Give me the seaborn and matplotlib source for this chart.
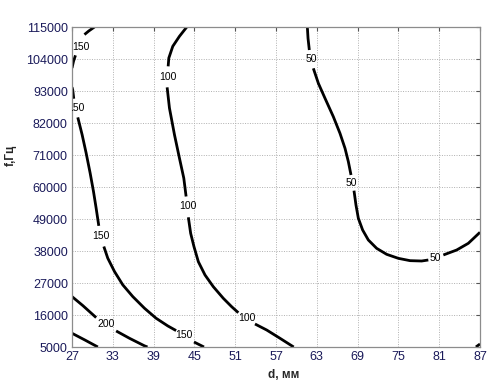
import numpy as np
import pandas as pd
import matplotlib
matplotlib.use("Agg")
import matplotlib.pyplot as plt
import seaborn as sns

# ---- data ----
x_ticks = [27, 33, 39, 45, 51, 57, 63, 69, 75, 81, 87]
y_ticks = [5000, 16000, 27000, 38000, 49000, 60000, 71000, 82000, 93000, 104000, 115000]

# contour 150, upper-left piece
c150a_seg1_d = [27.0, 27.22, 27.51]
c150a_seg1_f = [100900, 103200, 105260]
c150a_seg2_d = [28.83, 29.45, 30.3]
c150a_seg2_f = [112400, 113600, 115000]

# contour 150, main piece
c150_seg1_d = [27.0, 27.1, 27.26]
c150_seg1_f = [94300, 93450, 90350]
c150_seg2_d = [27.85, 28.49, 29.08, 29.67, 30.16, 30.55, 30.94]
c150_seg2_f = [83930, 77960, 71660, 64770, 58460, 52730, 46650]
c150_seg3_d = [31.68, 32.26, 33.25, 34.47, 35.94, 37.66, 39.37, 41.09, 42.31]
c150_seg3_f = [39540, 35530, 30940, 26350, 22330, 18320, 14880, 12240, 10640]
c150_seg4_d = [44.94, 46.41]
c150_seg4_f = [6720, 5000]

# contour 200
c200_seg1_d = [27.0, 28.59, 30.55]
c200_seg1_f = [22330, 19240, 15110]
c200_seg2_d = [33.49, 35.45, 37.66, 38.1]
c200_seg2_f = [10520, 8000, 5400, 5000]

# contour 250 (unlabelled, bottom-left)
c250_d = [27.0, 28.9, 30.8]
c250_f = [9720, 7400, 5000]

# contour 100
c100_seg1_d = [43.88, 42.8, 41.82, 41.24, 41.14]
c100_seg1_f = [115000, 111800, 108360, 104340, 101480]
c100_seg2_d = [40.99, 41.33, 42.07, 42.8, 43.44, 43.78]
c100_seg2_f = [94250, 87140, 77960, 69930, 63050, 56740]
c100_seg3_d = [44.11, 44.45, 44.94, 45.58, 46.56, 47.78, 49.25, 50.48, 51.46]
c100_seg3_f = [49580, 44080, 39480, 34320, 29750, 25730, 21740, 18850, 16790]
c100_seg4_d = [53.91, 55.63, 57.59, 59.6]
c100_seg4_f = [12910, 10840, 7990, 5000]

# contour 50
c50_seg1_d = [61.61, 61.71, 61.9]
c50_seg1_f = [115000, 111100, 107090]
c50_seg2_d = [62.49, 63.23, 64.21, 65.43, 66.41, 67.15, 67.64, 68.03]
c50_seg2_f = [100790, 95640, 90480, 84180, 78450, 73290, 68710, 64130]
c50_seg3_d = [68.47, 68.76, 69.11, 69.74, 70.58, 71.8, 73.27, 74.99, 76.71, 78.42, 79.4]
c50_seg3_f = [58740, 53810, 49230, 45220, 41780, 38920, 36860, 35480, 34680, 34560, 34910]
c50_seg4_d = [81.61, 83.57, 85.28, 87.0]
c50_seg4_f = [36630, 38340, 40640, 44430]

# tiny piece in the lower-right corner
c_corner_d = [86.4, 87.0]
c_corner_f = [5000, 6030]

# contour labels
label_text = ["150", "150", "150", "150", "200", "100", "100", "100", "50", "50", "50"]
label_d = [28.25, 27.5, 31.28, 43.39, 32.02, 41.09, 44.03, 52.78, 62.15, 68.13, 80.38]
label_f = [108230, 87140, 43210, 9140, 12820, 97810, 53300, 14860, 103890, 61260, 35480]

segments = [
    (c150a_seg1_d, c150a_seg1_f), (c150a_seg2_d, c150a_seg2_f),
    (c150_seg1_d, c150_seg1_f), (c150_seg2_d, c150_seg2_f),
    (c150_seg3_d, c150_seg3_f), (c150_seg4_d, c150_seg4_f),
    (c200_seg1_d, c200_seg1_f), (c200_seg2_d, c200_seg2_f),
    (c250_d, c250_f),
    (c100_seg1_d, c100_seg1_f), (c100_seg2_d, c100_seg2_f),
    (c100_seg3_d, c100_seg3_f), (c100_seg4_d, c100_seg4_f),
    (c50_seg1_d, c50_seg1_f), (c50_seg2_d, c50_seg2_f),
    (c50_seg3_d, c50_seg3_f), (c50_seg4_d, c50_seg4_f),
    (c_corner_d, c_corner_f),
]

rows = []
for i, (ds, fs) in enumerate(segments):
    for k, (d, f) in enumerate(zip(ds, fs)):
        rows.append({"d": d, "f": f, "seg": i, "order": k})
df = pd.DataFrame(rows)

sns.set_theme(style="white")
plt.rcParams["font.family"] = ["Liberation Sans", "DejaVu Sans"]

fig = plt.figure(figsize=(4.93, 3.89), dpi=100)
ax = fig.add_axes([72 / 493, 1 - 347 / 389, 408 / 493, 320 / 389])

sns.lineplot(data=df, x="d", y="f", units="seg", estimator=None, sort=False,
             color="black", linewidth=2.0, ax=ax, legend=False)
for ln in ax.lines:
    ln.set_solid_joinstyle("round")
    ln.set_solid_capstyle("butt")

for t, d, f in zip(label_text, label_d, label_f):
    ax.text(d, f, t, fontsize=7.5, color="black", ha="center", va="center",
            clip_on=True)

ax.set_xlim(27, 87)
ax.set_ylim(5000, 115000)
ax.set_xticks(x_ticks)
ax.set_yticks(y_ticks)
ax.set_xticklabels([str(v) for v in x_ticks])
ax.set_yticklabels([str(v) for v in y_ticks])

tick_color = "#1a1a5a"
ax.tick_params(axis="both", direction="in", length=3, width=0.8, color="#555555",
               labelsize=9, labelcolor=tick_color, pad=3, top=True, right=True)
ax.grid(True, linestyle=(0, (1, 1.5)), color="#b0b0b0", linewidth=0.7)
for s in ax.spines.values():
    s.set_color("#8c8c8c")
    s.set_linewidth(0.9)

ax.set_xlabel("d, мм", fontsize=8.5, fontweight="bold")
ax.set_ylabel("f,Гц", fontsize=8.5, fontweight="bold")
ax.xaxis.set_label_coords(0.52, -0.07)
ax.yaxis.set_label_coords(-0.135, 0.6)

fig.savefig("out.png", dpi=100)
